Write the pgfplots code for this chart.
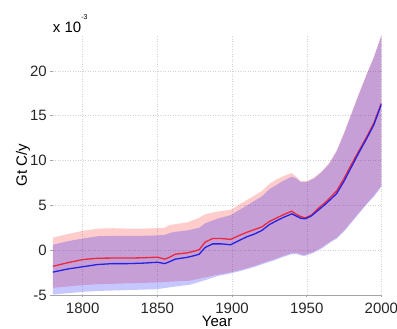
\documentclass[border=0pt]{standalone}
\usepackage{fontspec}
\setmainfont{Liberation Sans}
\usepackage{pgfplots}
\pgfplotsset{compat=1.18}
\usepackage{pgfplotstable}
\usepgfplotslibrary{fillbetween}

% red mean
\pgfplotstableread{
x y
1780 -1.8
1790 -1.4
1800 -1.05
1810 -0.9
1820 -0.88
1830 -0.88
1840 -0.85
1850 -0.78
1855 -1.0
1858 -0.8
1862 -0.45
1870 -0.3
1875 -0.1
1878 0.05
1882 0.9
1887 1.3
1893 1.3
1899 1.2
1905 1.65
1910 2.0
1915 2.3
1920 2.6
1925 3.2
1930 3.6
1935 4.0
1940 4.35
1943 4.0
1946 3.75
1949 3.6
1953 3.9
1958 4.7
1963 5.4
1970 6.6
1975 8.0
1980 9.6
1985 11.1
1990 12.6
1995 14.2
2000 16.4
}\rmean
% blue mean
\pgfplotstableread{
x y
1780 -2.45
1790 -2.1
1800 -1.85
1810 -1.6
1820 -1.5
1830 -1.5
1840 -1.45
1850 -1.35
1855 -1.5
1858 -1.3
1862 -1.0
1870 -0.8
1875 -0.6
1878 -0.45
1882 0.3
1887 0.7
1893 0.7
1899 0.6
1905 1.1
1910 1.5
1915 1.8
1920 2.2
1925 2.85
1930 3.3
1935 3.7
1940 4.05
1943 3.8
1946 3.55
1949 3.5
1953 3.8
1958 4.5
1963 5.2
1970 6.3
1975 7.7
1980 9.3
1985 10.9
1990 12.4
1995 14.0
2000 16.3
}\bmean
% red upper
\pgfplotstableread{
x y
1780 1.4
1790 1.8
1800 2.15
1810 2.4
1820 2.45
1830 2.4
1840 2.4
1850 2.45
1855 2.5
1858 2.8
1862 2.9
1870 3.1
1878 3.6
1882 4.0
1890 4.3
1899 4.5
1905 5.1
1910 5.6
1915 6.1
1920 6.6
1925 7.4
1930 7.9
1935 8.3
1940 8.6
1943 8.2
1946 7.7
1950 7.7
1955 8.1
1960 8.8
1965 9.7
1970 11.1
1975 13.1
1980 15.3
1985 17.5
1990 19.6
1995 21.6
2000 24.0
}\rup
% blue upper
\pgfplotstableread{
x y
1780 0.6
1790 1.0
1800 1.3
1810 1.55
1820 1.6
1830 1.6
1840 1.6
1850 1.65
1855 1.7
1858 1.9
1862 2.05
1870 2.2
1878 2.5
1882 3.0
1890 3.5
1899 3.9
1905 4.5
1910 5.0
1915 5.5
1920 6.0
1925 6.8
1930 7.3
1935 7.8
1940 8.2
1943 8.0
1946 7.6
1950 7.6
1955 8.0
1960 8.7
1965 9.6
1970 11.0
1975 13.0
1980 15.2
1985 17.4
1990 19.5
1995 21.5
2000 23.9
}\bup
% red lower
\pgfplotstableread{
x y
1780 -4.2
1790 -4.05
1800 -3.9
1810 -3.8
1820 -3.75
1830 -3.7
1840 -3.65
1850 -3.6
1860 -3.5
1872 -3.4
1881 -3.07
1890 -2.75
1900 -2.44
1908 -2.1
1916 -1.7
1922 -1.35
1928 -1.03
1934 -0.65
1939 -0.37
1943 -0.3
1948 -0.55
1954 -0.22
1960 0.3
1966 1.0
1970 1.4
1975 2.2
1980 3.2
1985 4.2
1990 5.2
1995 6.1
2000 7.2
}\rlow
% blue lower
\pgfplotstableread{
x y
1780 -4.95
1790 -4.8
1800 -4.65
1810 -4.55
1820 -4.5
1830 -4.45
1840 -4.4
1850 -4.35
1860 -4.1
1872 -3.85
1881 -3.4
1890 -2.9
1900 -2.56
1908 -2.22
1916 -1.82
1922 -1.47
1928 -1.15
1934 -0.77
1939 -0.49
1943 -0.42
1948 -0.67
1954 -0.34
1960 0.18
1966 0.88
1970 1.28
1975 2.08
1980 3.08
1985 4.08
1990 5.08
1995 5.98
2000 7.08
}\blow

\begin{document}
\begin{tikzpicture}
\begin{axis}[
  scale only axis,
  width=328.6pt, height=260pt,
  xmin=1780, xmax=2000, ymin=-5, ymax=24,
  clip mode=individual,
  xtick={1800,1850,...,2000}, ytick={-5,0,...,20},
  axis x line*=bottom, axis y line*=left,
  y axis line style={draw=none},
  x axis line style={gray!70, line width=0.6pt},
  tick align=outside, major tick length=2.5pt,
  tick style={gray!70, line width=0.5pt},
  grid=major,
  major grid style={gray!35, line width=0.4pt, dash pattern=on 1pt off 1.5pt},
  /pgf/number format/assume math mode=true,
  /pgf/number format/1000 sep={},
  tick label style={font=\fontsize{15}{18}\selectfont, text=black!85},
  xticklabel style={anchor=base, yshift=-16pt},
  xlabel={Year}, ylabel={Gt C/y},
  every axis x label/.style={at={(axis description cs:0.5,-0.123)}, anchor=base, font=\fontsize{15}{18}\selectfont},
  every axis y label/.style={at={(axis description cs:-0.079,0.5)}, anchor=base, rotate=90, font=\fontsize{15}{18}\selectfont},
]
\addplot[draw=none, name path=ru, forget plot] table[x=x,y=y] {\rup};
\addplot[draw=none, name path=rl, forget plot] table[x=x,y=y] {\rlow};
\addplot[draw=none, name path=bu, forget plot] table[x=x,y=y] {\bup};
\addplot[draw=none, name path=bl, forget plot] table[x=x,y=y] {\blow};
\addplot[fill=red, fill opacity=0.2, draw=none] fill between[of=ru and rl];
\addplot[fill=blue, fill opacity=0.22, draw=none] fill between[of=bu and bl];
\addplot[color={rgb,255:red,235;green,40;blue,60}, line width=1.3pt] table[x=x,y=y] {\rmean};
\addplot[color={rgb,255:red,35;green,35;blue,225}, line width=1.3pt] table[x=x,y=y] {\bmean};
\node[anchor=base west, inner sep=0pt, font=\fontsize{15}{18}\selectfont] at ([yshift=2.5pt]rel axis cs:0,1) {x 10\raisebox{13pt}{\fontsize{7}{7}\selectfont -3}};
\end{axis}
\pgfresetboundingbox
\path[use as bounding box] (-52.8pt,-34pt) rectangle (344.2pt,295pt);
\end{tikzpicture}
\end{document}
